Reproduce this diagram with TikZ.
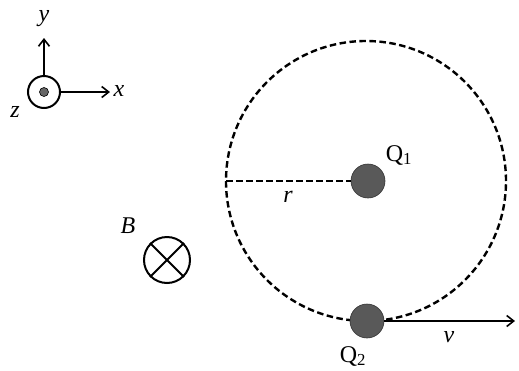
\documentclass[tikz,border=0pt]{standalone}
\usepackage{fontspec}
\setmainfont{Liberation Serif}
\usetikzlibrary{arrows.meta}
\begin{document}
\begin{tikzpicture}[x=1pt,y=-1pt,
  lbl/.style={font=\fontsize{24}{27}\selectfont, inner sep=0pt},
  dsh/.style={line width=2.4pt, dash pattern=on 6.5pt off 3.5pt},
  axis/.style={line width=1.6pt, -{Straight Barb[length=7pt,width=11pt]}},
  ball/.style={circle, fill=black!65, draw=black!80, line width=0.6pt, minimum size=34pt, inner sep=0pt}]
\useasboundingbox (0,0) rectangle (519,370);
% coordinate system
\node[circle, draw, line width=2pt, minimum size=32pt, inner sep=0pt] (o) at (44,92) {};
\node[circle, fill=black!60, draw=black, line width=0.6pt, minimum size=9pt, inner sep=0pt] (od) at (44,92) {};
\coordinate (ytip) at (44,38);
\coordinate (xtip) at (110,92);
\draw[axis] (o.north) -- (ytip);
\draw[axis] (o.east) -- (xtip);
\node[lbl] (ly) at (44,19) {\textit{y}};
\node[lbl] (lx) at (119,91) {\textit{x}};
\node[lbl] (lz) at (15,112) {\textit{z}};
% field
\node[lbl] (lB) at (128,226) {\textit{B}};
\node[circle, draw, line width=2pt, minimum size=46pt, inner sep=0pt] (bx) at (167,260) {};
\draw[line width=2pt] (bx.north west) -- (bx.south east) (bx.north east) -- (bx.south west);
% circular orbit
\coordinate (c) at (366,181);
\draw[dsh] (c) circle[radius=140pt];
\coordinate (left) at (226,181);
\node[ball] (q1) at (368,181) {};
\node[ball] (q2) at (367,321) {};
\draw[dsh] (left) -- (q1.west);
\node[lbl] (lr) at (288,197) {\textit{r}};
\node[lbl] (lq1) at (399,155) {Q\textsubscript{1}};
\node[lbl] (lq2) at (353,356) {Q\textsubscript{2}};
\coordinate (vtip) at (515,321);
\draw[line width=1.6pt, -{Straight Barb[length=7pt,width=11pt]}] (q2.east) -- (vtip);
\node[lbl] (lv) at (449,337) {\textit{v}};
\end{tikzpicture}
\end{document}
